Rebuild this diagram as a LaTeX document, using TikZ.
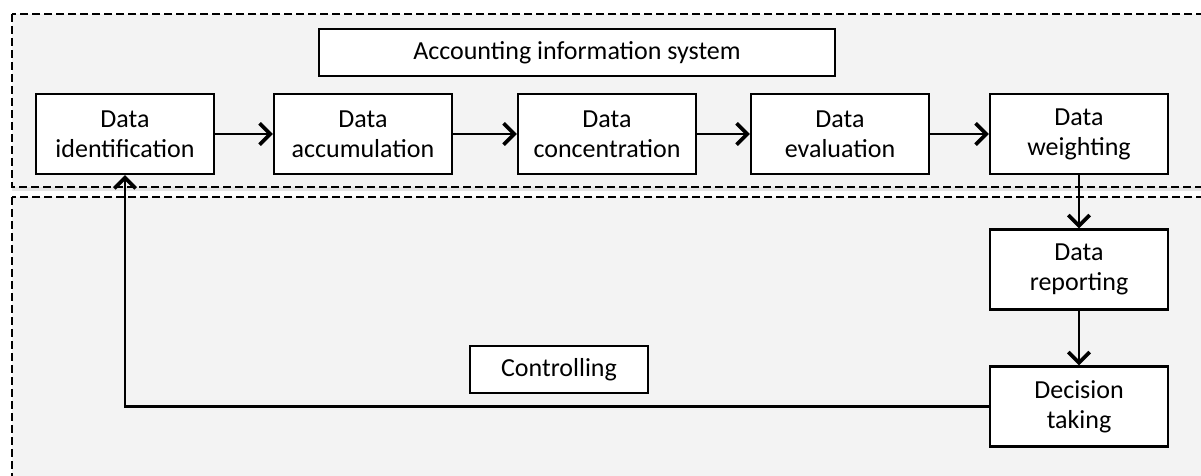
\documentclass[tikz,border=0pt]{standalone}
\usepackage{fontspec}
\setmainfont{Carlito}
\usetikzlibrary{arrows.meta,shadows}

\definecolor{areagray}{RGB}{243,243,243}

\begin{document}
\begin{tikzpicture}[x=0.75pt,y=0.75pt,yscale=-1,xscale=1,
    area/.style={draw=black, dash pattern=on 6pt off 3pt, line width=1.6pt, fill=areagray,
      drop shadow={shadow xshift=0pt, shadow yshift=-3pt, opacity=0.2}},
    stage/.style={draw=black, fill=white, line width=1.6pt, align=center,
      minimum width=133.5pt, minimum height=60pt, inner sep=0pt,
      font=\fontsize{19.5}{22.5}\selectfont},
    label box/.style={draw=black, fill=white, line width=1.6pt,
      minimum height=35.25pt, inner sep=0pt,
      font=\fontsize{19.5}{22.5}\selectfont},
    flow/.style={line width=1.6pt, -{Straight Barb[length=8pt,width=16pt,line width=2.8pt]}}]
    \useasboundingbox (0,0) rectangle (1201,475);
    \fill[white] (0,0) rectangle (1201,475);

    % Dashed areas
    \draw[area] (12,197) rectangle (1215,490);
    \draw[area] (12,14) rectangle (1215,187);

    % Title boxes
    \node[label box, minimum width=387pt] (ais) at (577,52.5) {Accounting information system};
    \node[label box, minimum width=133.5pt] (ctrl) at (559,369.5) {Controlling};

    % Stages
    \node[stage] (ident) at (125,134) {Data\\identification};
    \node[stage] (accum) at (363,134) {Data\\accumulation};
    \node[stage] (conc) at (607,134) {Data\\concentration};
    \node[stage] (eval) at (840,134) {Data\\evaluation};
    \node[stage] (weight) at (1079,134) {Data\\weighting};
    \node[stage] (report) at (1079,269.5) {Data\\reporting};
    \node[stage] (decide) at (1079,406.5) {Decision\\taking};

    % Connectors
    \draw[flow] (ident) -- (accum);
    \draw[flow] (accum) -- (conc);
    \draw[flow] (conc) -- (eval);
    \draw[flow] (eval) -- (weight);
    \draw[flow] (weight) -- (report);
    \draw[flow] (report) -- (decide);
    \draw[flow] (decide.west) -| (ident.south);
\end{tikzpicture}
\end{document}
